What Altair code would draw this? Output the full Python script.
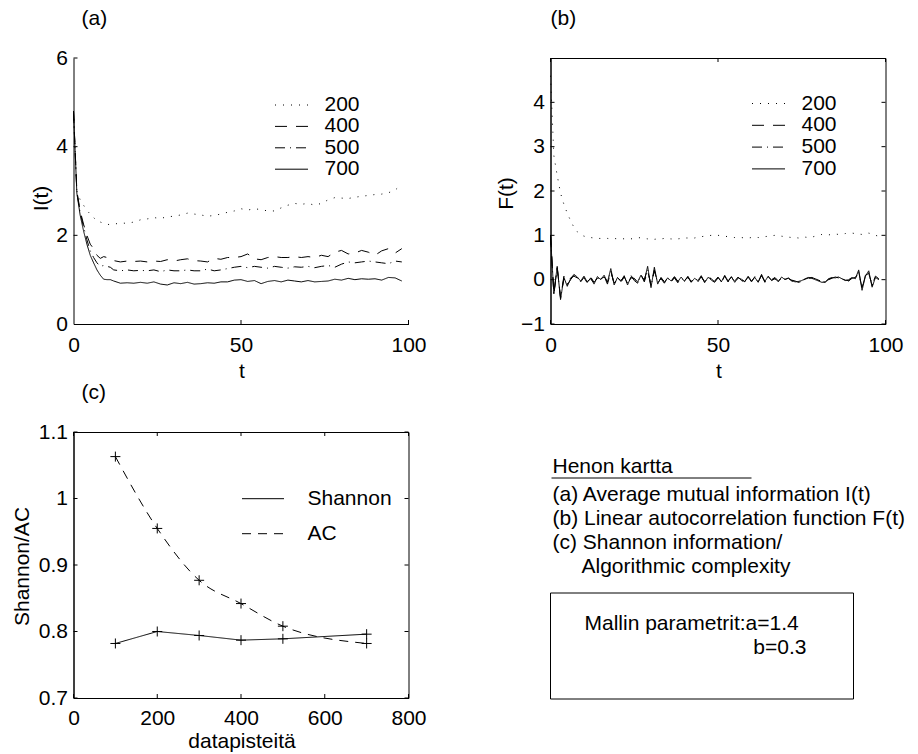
import altair as alt
import pandas as pd

FONT = "Liberation Sans"
FS = 21
W, H = 335, 266

# ---------------- data: panel (a) ----------------
SERIES = ["200", "400", "500", "700"]
DASHES = [[1, 7], [12, 9], [10, 5, 1, 5], [1, 0]]

T_A = [0, 1, 2, 3, 4, 5, 6, 7, 8, 9, 10, 11, 12,
       14, 16, 18, 20, 22, 24, 26, 28, 30, 32, 34, 36, 38, 40, 42, 44, 46, 48,
       50, 52, 54, 56, 58, 60, 62, 64, 66, 68, 70, 72, 74, 76, 78, 80, 82, 84,
       86, 88, 90, 92, 94, 96, 98]

I_200 = [4.8, 3.0, 2.8, 2.68, 2.56, 2.48, 2.4, 2.33, 2.3, 2.27, 2.25, 2.24, 2.25,
         2.28, 2.27, 2.3, 2.35, 2.37, 2.4, 2.38, 2.42, 2.43, 2.46, 2.5, 2.48, 2.46,
         2.43, 2.45, 2.48, 2.52, 2.55,
         2.6, 2.57, 2.6, 2.58, 2.55, 2.55, 2.62, 2.68, 2.72, 2.7, 2.72, 2.68, 2.72,
         2.8, 2.85, 2.84, 2.83, 2.86, 2.88, 2.9, 2.92, 2.93, 2.96, 3.02, 3.15]
I_400 = [4.8, 3.0, 2.55, 2.25, 2.0, 1.8, 1.7, 1.55, 1.48, 1.52, 1.5, 1.45, 1.43,
         1.4, 1.42, 1.41, 1.42, 1.4, 1.42, 1.41, 1.45, 1.42, 1.45, 1.47, 1.43, 1.42,
         1.4, 1.48, 1.46, 1.5, 1.5,
         1.52, 1.58, 1.47, 1.45, 1.5, 1.52, 1.5, 1.5, 1.52, 1.5, 1.52, 1.5, 1.55,
         1.52, 1.62, 1.66, 1.58, 1.6, 1.66, 1.62, 1.55, 1.65, 1.7, 1.6, 1.7]
I_500 = [4.8, 2.98, 2.5, 2.2, 1.9, 1.65, 1.5, 1.38, 1.3, 1.32, 1.3, 1.28, 1.22,
         1.2, 1.22, 1.2, 1.21, 1.2, 1.22, 1.18, 1.22, 1.2, 1.2, 1.22, 1.2, 1.2,
         1.24, 1.2, 1.22, 1.25, 1.28,
         1.3, 1.27, 1.3, 1.28, 1.26, 1.3, 1.28, 1.26, 1.29, 1.28, 1.3, 1.27, 1.3,
         1.32, 1.28, 1.35, 1.4, 1.38, 1.4, 1.42, 1.4, 1.38, 1.36, 1.42, 1.4]
I_700 = [4.8, 2.95, 2.45, 2.1, 1.8, 1.55, 1.38, 1.22, 1.1, 1.01, 1.0, 1.0, 0.97,
         0.92, 0.93, 0.92, 0.94, 0.92, 0.95, 0.9, 0.88, 0.93, 0.91, 0.94, 0.9, 0.91,
         0.93, 0.92, 0.95, 0.95, 0.99,
         1.0, 0.96, 0.98, 0.91, 0.96, 0.98, 0.95, 0.99, 0.97, 0.95, 0.98, 0.95, 0.96,
         0.97, 1.01, 0.99, 1.03, 1.0, 1.02, 1.01, 1.02, 0.99, 1.05, 1.04, 0.97]

# ---------------- data: panel (b) ----------------
T_B = list(range(99))
F_200 = [4.6, 2.8, 2.35, 1.95, 1.7, 1.5, 1.33, 1.18, 1.08, 1.02,
         0.98, 0.97, 0.95, 0.94, 0.93, 0.93, 0.92, 0.93, 0.92, 0.93,
         0.92, 0.93, 0.92, 0.93, 0.92, 0.93, 0.94, 0.95, 0.93, 0.92,
         0.9, 0.91, 0.92, 0.92, 0.93, 0.92, 0.92, 0.91, 0.92, 0.93,
         0.94, 0.94, 0.93, 0.94, 0.96, 0.97, 0.98, 0.99, 1.0, 1.01,
         1.0, 0.99, 0.98, 0.97, 0.96, 0.95, 0.96, 0.95, 0.94, 0.94,
         0.95, 0.96, 0.95, 0.96, 0.97, 0.98, 0.99, 1.0, 0.99, 0.98,
         0.97, 0.96, 0.95, 0.95, 0.94, 0.95, 0.96, 0.95, 0.96, 0.98,
         1.0, 1.02, 1.02, 1.01, 1.02, 1.03, 1.02, 1.03, 1.04, 1.05,
         1.05, 1.04, 1.03, 1.02, 1.03, 1.05, 1.03, 1.0, 0.98]
F_400 = [1.0, -0.3, 0.28, -0.42, 0.08, -0.12, 0.0, 0.1, 0.08, -0.05,
         0.05, -0.08, 0.06, -0.06, 0.03, 0.04, 0.08, -0.1, 0.18, -0.08,
         0.02, -0.06, 0.06, -0.08, 0.1, -0.02, -0.08, 0.12, -0.05, 0.2,
         -0.12, 0.2, -0.06, 0.02, -0.08, 0.06, -0.05, 0.04, -0.07, 0.05,
         -0.02, 0.06, -0.04, 0.05, -0.05, 0.07, -0.04, 0.07, -0.01, -0.06,
         0.04, -0.07, 0.08, -0.05, 0.05, -0.03, 0.06, -0.02, -0.06, 0.06,
         -0.05, 0.07, -0.04, 0.09, -0.06, 0.05, 0.0, 0.05, -0.03, 0.04,
         0.02, 0.03, -0.01, -0.03, -0.06, -0.04, 0.0, 0.03, 0.05, 0.02,
         -0.01, -0.04, -0.07, 0.0, 0.03, 0.06, 0.04, 0.03, 0.0, -0.03,
         0.03, 0.05, 0.15, -0.18, 0.1, 0.14, -0.12, 0.08, 0.02]
F_500 = [1.0, -0.34, 0.26, -0.4, 0.02, -0.1, 0.04, 0.08, 0.04, 0.0,
         0.06, -0.04, 0.02, -0.08, 0.05, 0.02, 0.06, -0.04, 0.2, -0.1,
         0.04, -0.02, 0.07, -0.1, 0.04, 0.03, -0.06, 0.08, 0.0, 0.24,
         -0.15, 0.22, -0.08, 0.04, -0.04, 0.03, -0.04, 0.06, -0.03, 0.04,
         -0.03, 0.05, -0.05, 0.04, -0.03, 0.06, -0.05, 0.04, 0.03, -0.03,
         0.05, -0.04, 0.07, -0.04, 0.06, -0.05, 0.03, 0.0, -0.04, 0.06,
         -0.02, 0.04, -0.05, 0.1, -0.03, 0.06, -0.01, 0.02, -0.04, 0.05,
         0.01, 0.03, -0.03, -0.04, -0.05, -0.03, 0.01, 0.04, 0.04, 0.01,
         -0.02, -0.05, -0.06, 0.01, 0.04, 0.05, 0.05, 0.02, -0.01, -0.02,
         0.04, 0.03, 0.18, -0.2, 0.09, 0.17, -0.14, 0.06, 0.01]
F_700 = [1.0, -0.32, 0.3, -0.45, 0.05, -0.15, 0.02, 0.12, 0.06, -0.03,
         0.08, -0.06, 0.04, -0.1, 0.07, 0.0, 0.1, -0.06, 0.25, -0.12,
         0.05, -0.04, 0.09, -0.12, 0.06, 0.02, -0.05, 0.1, -0.02, 0.3,
         -0.18, 0.28, -0.1, 0.05, -0.06, 0.04, -0.03, 0.07, -0.05, 0.06,
         -0.04, 0.08, -0.06, 0.03, -0.02, 0.09, -0.07, 0.05, 0.02, -0.04,
         0.06, -0.05, 0.1, -0.03, 0.07, -0.06, 0.04, 0.01, -0.05, 0.08,
         -0.03, 0.05, -0.06, 0.12, -0.04, 0.08, -0.02, 0.03, -0.05, 0.06,
         0.0, 0.04, -0.02, -0.05, -0.04, -0.02, 0.02, 0.05, 0.03, 0.0,
         -0.03, -0.06, -0.05, 0.02, 0.05, 0.04, 0.06, 0.02, -0.02, 0.0,
         0.05, 0.02, 0.22, -0.24, 0.08, 0.2, -0.17, 0.05, 0.0]

# ---------------- data: panel (c) ----------------
N_PTS = [100, 200, 300, 400, 500, 700]
SHANNON = [0.782, 0.800, 0.794, 0.787, 0.789, 0.796]
AC = [1.063, 0.955, 0.877, 0.842, 0.808, 0.782]
CURVES = ["Shannon", "AC"]
CURVE_DASHES = [[1, 0], [9, 7]]

# ---------------- text panel ----------------
PANEL_LABELS = ["(a)", "(b)", "(c)"]
INFO_TITLE = "Henon kartta"
INFO_LINES = ["(a) Average mutual information I(t)",
              "(b) Linear autocorrelation function F(t)",
              "(c) Shannon information/",
              "Algorithmic complexity"]
PARAM_LINES = ["Mallin parametrit:a=1.4", "b=0.3"]


def long_df(tvals, series_names, series_vals, tname, vname, sname):
    rows = []
    for s, vals in zip(series_names, series_vals):
        assert len(vals) == len(tvals), (s, len(vals), len(tvals))
        for t, v in zip(tvals, vals):
            rows.append({tname: t, vname: v, sname: s})
    return pd.DataFrame(rows)


df_a = long_df(T_A, SERIES, [I_200, I_400, I_500, I_700], "t", "v", "n")
df_b = long_df(T_B, SERIES, [F_200, F_400, F_500, F_700], "t", "v", "n")
df_c = long_df(N_PTS, CURVES, [SHANNON, AC], "t", "v", "curve")


def tick_layers(xvals, yvals, xe, ye, full_box):
    """Inward MATLAB-style ticks, positioned through the panel's own scales."""
    base_x = alt.Chart(pd.DataFrame({"t": xvals})).mark_rule(color="black", strokeWidth=1)
    base_y = alt.Chart(pd.DataFrame({"v": yvals})).mark_rule(color="black", strokeWidth=1)
    layers = [
        base_x.encode(x=xe, y=alt.value(H), y2=alt.value(H - 4)),
        base_y.encode(y=ye, x=alt.value(0), x2=alt.value(4)),
    ]
    if full_box:
        layers += [
            base_x.encode(x=xe, y=alt.value(0), y2=alt.value(4)),
            base_y.encode(y=ye, x=alt.value(W - 4), x2=alt.value(W)),
        ]
    return layers


def panel_label(text, dx):
    return alt.Chart(pd.DataFrame({"label": [text]})).mark_text(
        align="left", baseline="middle", fontSize=FS, color="black"
    ).encode(x=alt.value(dx), y=alt.value(-39.5), text="label:N")


def legend(x, y, size, offset, rowpad, clip):
    return alt.Legend(orient="none", legendX=x, legendY=y, title=None,
                      symbolType="stroke", symbolSize=size, symbolStrokeWidth=1,
                      symbolStrokeColor="black", labelFontSize=FS,
                      labelOffset=offset, rowPadding=rowpad, padding=0,
                      clipHeight=clip, labelColor="black")


def x_axis(values, title, title_y, label_pad):
    return alt.Axis(values=values, title=title, titleX=168, titleY=title_y,
                    titleBaseline="alphabetic", titleAlign="center",
                    labelPadding=label_pad, labelBaseline="alphabetic")


def y_axis(values, title, tx, ty, **kw):
    return alt.Axis(values=values, title=title, titleX=tx, titleY=ty,
                    titleAngle=270, titleBaseline="middle", titleAlign="center",
                    labelPadding=6, **kw)


# ---------------- panel (a) ----------------
X_A = alt.X("t:Q", scale=alt.Scale(domain=[0, 100], nice=False, zero=False),
            axis=x_axis([0, 50, 100], "t", 53, 27))
Y_A = alt.Y("v:Q", scale=alt.Scale(domain=[0, 6], nice=False, zero=False),
            axis=y_axis([0, 2, 4, 6], "I(t)", -32, 140))
line_a = alt.Chart(df_a).mark_line(color="black", strokeWidth=1).encode(
    x=X_A, y=Y_A,
    strokeDash=alt.StrokeDash("n:N", scale=alt.Scale(domain=SERIES, range=DASHES),
                              legend=legend(201, 37, 1089, 16, 0.4, 20)),
)
panel_a = alt.layer(line_a, *tick_layers([50, 100], [2, 4, 6], X_A, Y_A, False),
                    panel_label(PANEL_LABELS[0], 8)).properties(width=W, height=H)

# ---------------- panel (b) ----------------
X_B = alt.X("t:Q", scale=alt.Scale(domain=[0, 100], nice=False, zero=False),
            axis=x_axis([0, 50, 100], "t", 53, 27))
Y_B = alt.Y("v:Q", scale=alt.Scale(domain=[-1, 5], nice=False, zero=False),
            axis=y_axis([-1, 0, 1, 2, 3, 4], "F(t)", -44, 135,
                        labelExpr="datum.value < 0 ? '\u2212' + (-datum.value) : datum.label"))
line_b = alt.Chart(df_b).mark_line(color="black", strokeWidth=1).encode(
    x=X_B, y=Y_B,
    strokeDash=alt.StrokeDash("n:N", scale=alt.Scale(domain=SERIES, range=DASHES),
                              legend=legend(201, 35.5, 1089, 16, 0.8, 20)),
)
panel_b = alt.layer(line_b, *tick_layers([0, 50, 100], [-1, 0, 1, 2, 3, 4], X_B, Y_B, True),
                    panel_label(PANEL_LABELS[1], 0)).properties(
    width=W, height=H, view=alt.ViewBackground(stroke="black", strokeWidth=1))

# ---------------- panel (c) ----------------
X_C = alt.X("t:Q", scale=alt.Scale(domain=[0, 800], nice=False, zero=False),
            axis=x_axis([0, 200, 400, 600, 800], "datapisteitä", 49, 26))
Y_C = alt.Y("v:Q", scale=alt.Scale(domain=[0.7, 1.1], nice=False, zero=False),
            axis=y_axis([0.7, 0.8, 0.9, 1.0, 1.1], "Shannon/AC", -51, 134,
                        format=".1~f"))
dash_c = alt.StrokeDash("curve:N", scale=alt.Scale(domain=CURVES, range=CURVE_DASHES),
                        legend=legend(168, 56.2, 1764, 23, 13, 21))
base_c = alt.Chart(df_c)
line_c1 = base_c.transform_filter("datum.curve == 'Shannon'").mark_line(
    color="black", strokeWidth=1).encode(x=X_C, y=Y_C, strokeDash=dash_c)
line_c2 = base_c.transform_filter("datum.curve == 'AC'").mark_line(
    color="black", strokeWidth=1, interpolate="monotone").encode(
    x=X_C, y=Y_C, strokeDash=dash_c)
pts_c = base_c.mark_point(shape="M-1,0L1,0M0,-1L0,1", size=100, filled=False,
                          color="black", strokeWidth=1, opacity=1).encode(x=X_C, y=Y_C)
panel_c = alt.layer(line_c1, line_c2, pts_c,
                    *tick_layers([0, 200, 400, 600, 800], [0.7, 0.8, 0.9, 1.0, 1.1],
                                 X_C, Y_C, True),
                    panel_label(PANEL_LABELS[2], 8)).properties(
    width=W, height=H, view=alt.ViewBackground(stroke="black", strokeWidth=1))


# ---------------- panel (d): text ----------------
def txt(text, x, y, align="left"):
    return alt.Chart(pd.DataFrame({"text": [text]})).mark_text(
        align=align, baseline="middle", fontSize=FS, color="black"
    ).encode(x=alt.value(x), y=alt.value(y), text="text:N")


dummy = pd.DataFrame({"k": [0]})
underline = alt.Chart(dummy).mark_rule(color="black", strokeWidth=1).encode(
    x=alt.value(1), x2=alt.value(201), y=alt.value(46))
box = alt.Chart(dummy).mark_rect(fillOpacity=0, stroke="black", strokeWidth=1).encode(
    x=alt.value(0), x2=alt.value(303), y=alt.value(161), y2=alt.value(267))
panel_d = alt.layer(
    txt(INFO_TITLE, 2, 35), underline,
    txt(INFO_LINES[0], 2, 63), txt(INFO_LINES[1], 2, 87),
    txt(INFO_LINES[2], 2, 111), txt(INFO_LINES[3], 31, 135),
    box, txt(PARAM_LINES[0], 34, 192), txt(PARAM_LINES[1], 256, 216, "right"),
).properties(width=W, height=H)

chart = alt.concat(
    panel_a, panel_b, panel_c, panel_d, columns=2,
    spacing={"row": 108, "column": 142}, bounds="flush"
).resolve_scale(
    strokeDash="independent", x="independent", y="independent"
).resolve_legend(strokeDash="independent").properties(
    padding={"left": 10.5, "top": 7, "right": 5, "bottom": 5}
).configure(font=FONT).configure_view(stroke="transparent").configure_axis(
    labelFontSize=FS, titleFontSize=FS, labelColor="black", titleColor="black",
    domainColor="black", domainWidth=1, ticks=False, tickSize=0, grid=False,
    labelFont=FONT, titleFont=FONT, titleFontWeight="normal", labelFlush=False,
    labelOverlap=False
).configure_legend(labelFont=FONT, labelFontSize=FS, labelColor="black")

chart.save("out.html", embed_options={"renderer": "svg", "actions": False})
